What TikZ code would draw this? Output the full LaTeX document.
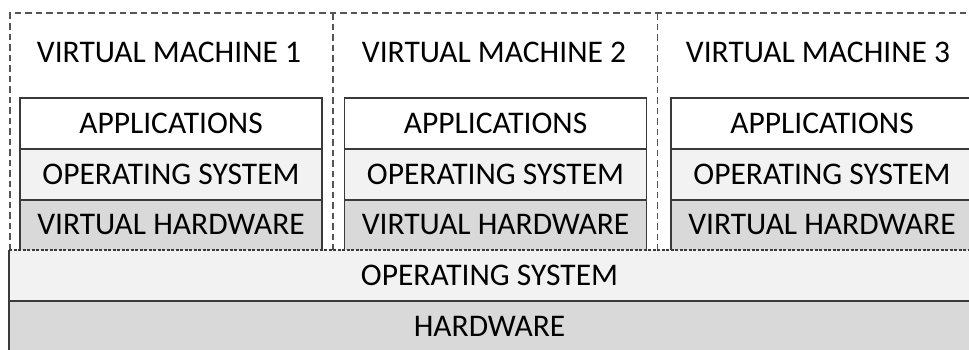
\documentclass[tikz,border=0pt]{standalone}
\usepackage{fontspec}
\setmainfont{Carlito}
\definecolor{framegray}{HTML}{3A3A3A}
\definecolor{dashgray}{HTML}{555555}
\definecolor{layerlight}{HTML}{F2F2F2}
\definecolor{layerdark}{HTML}{D9D9D9}
\tikzset{
  layer/.style={rectangle, inner sep=0pt, outer sep=0pt, font=\fontsize{31.5}{33}\selectfont, text=black},
  vmwidth/.style={minimum width=302pt},
  rowh/.style={minimum height=51pt},
  framed/.style={draw=framegray, line width=1.3pt},
  vmedge/.style={draw=dashgray, line width=1.4pt, dash pattern=on 6.5pt off 4pt},
  seam/.style={draw=framegray, line width=1.1pt, dash pattern=on 3pt off 1.5pt},
  vmtitle/.style={font=\fontsize{31.5}{33}\selectfont, inner sep=0pt, text=black}
}
\begin{document}
\begin{tikzpicture}[x=1pt, y=-1pt]
\useasboundingbox (0,0) rectangle (969,349);
\clip (0,0) rectangle (969,349);

% dashed outlines of the three virtual machines
\coordinate (vmtl) at (10,13);
\coordinate (vmbl) at (10,250);
\coordinate (vmtr) at (980,13);
\coordinate (div1t) at (333,13);
\coordinate (div1b) at (333,250);
\coordinate (div2t) at (657.5,13);
\coordinate (div2b) at (657.5,250);
\draw[vmedge] (vmbl) -- (vmtl) -- (vmtr);
\draw[vmedge] (div1t) -- (div1b);
\draw[vmedge] (div2t) -- (div2b);

% machine titles
\node[vmtitle] (t1) at (169,52.5) {VIRTUAL MACHINE 1};
\node[vmtitle] (t2) at (494,52.5) {VIRTUAL MACHINE 2};
\node[vmtitle] (t3) at (818,52.5) {VIRTUAL MACHINE 3};

% guest stacks
\foreach \i/\cx in {1/171, 2/495.5, 3/822} {
  \node[layer, vmwidth, rowh, fill=white, framed] (app\i) at (\cx,123.5) {APPLICATIONS};
  \node[layer, vmwidth, rowh, fill=layerlight, framed] (gos\i) at (\cx,174.5) {OPERATING SYSTEM};
  \node[layer, vmwidth, minimum height=50pt, fill=layerdark] (vhw\i) at (\cx,225) {VIRTUAL HARDWARE};
  \draw[framed] (vhw\i.south west) -- (vhw\i.north west) -- (vhw\i.north east) -- (vhw\i.south east);
}

% host layers
\node[layer, minimum width=961pt, rowh, fill=layerlight] (hos) at (489.5,275.5) {OPERATING SYSTEM};
\node[layer, minimum width=961pt, rowh, fill=layerdark, framed] (hw) at (489.5,326.5) {HARDWARE};
\draw[framed] (hos.north west) -- (hos.south west) -- (hos.south east) -- (hos.north east);
\draw[seam] (hos.north west) -- (hos.north east);
\end{tikzpicture}
\end{document}
